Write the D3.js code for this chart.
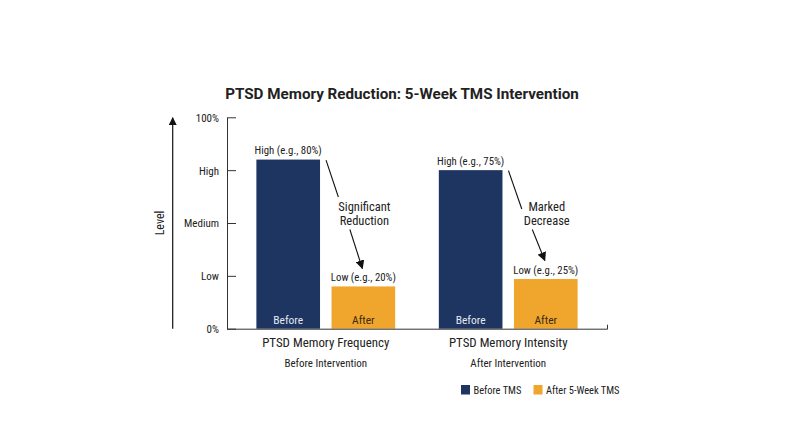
<!DOCTYPE html>
<html>
<head>
<meta charset="utf-8">
<script src="https://cdn.jsdelivr.net/npm/d3@7"></script>
<style>
  html, body { margin: 0; padding: 0; background: #fff; }
  svg text { font-family: "Roboto Condensed", "Liberation Sans Narrow", "Arial Narrow", "DejaVu Sans Condensed", sans-serif; fill: #222; }
  svg text.title { font-family: Roboto, "Noto Sans", sans-serif; font-weight: 700; }
</style>
</head>
<body>
<svg id="chart" width="800" height="447"></svg>
<script>
// ---- data ----
const groups = ["PTSD Memory Frequency", "PTSD Memory Intensity"];
const groupSubLabels = ["Before Intervention", "After Intervention"];
const phases = ["Before", "After"];
const seriesNames = ["Before TMS", "After 5-Week TMS"];
const beforeValues = [80, 75];
const afterValues = [20, 23.5];
const valueLabels = [["High (e.g., 80%)", "Low (e.g., 20%)"], ["High (e.g., 75%)", "Low (e.g., 25%)"]];
const annotations = [["Significant", "Reduction"], ["Marked", "Decrease"]];
const tickValues = [0, 25, 50, 75, 100];
const tickLabels = ["0%", "Low", "Medium", "High", "100%"];
const colors = ["#1e3461", "#f0a52c"];

const svg = d3.select("#chart");
const margin = { left: 227, right: 193, top: 117.3, bottom: 118.3 };
const W = 800, H = 447;
const x0 = d3.scaleBand().domain(groups).range([margin.left, W - margin.right]).paddingInner(0.165).paddingOuter(0.124);
const x1 = d3.scaleBand().domain(phases).range([0, x0.bandwidth()]).paddingInner(0.153).paddingOuter(0.09);
const y = d3.scaleLinear().domain([0, 100]).range([H - margin.bottom, margin.top]);

// title
svg.append("text").attr("class", "title").attr("x", 402).attr("y", 98.5)
  .attr("text-anchor", "middle").style("font-size", "15.2px").text("PTSD Memory Reduction: 5-Week TMS Intervention");

// bars
const data = groups.map((g, i) => ({ g, i, vals: [beforeValues[i], afterValues[i]] }));
const gG = svg.selectAll("g.grp").data(data).join("g").attr("class", "grp")
  .attr("transform", d => `translate(${x0(d.g)},0)`);
gG.selectAll("rect").data(d => d.vals.map((v, j) => ({ v, j, i: d.i }))).join("rect")
  .attr("x", d => x1(phases[d.j])).attr("width", x1.bandwidth())
  .attr("y", d => y(d.v)).attr("height", d => y(0) - y(d.v))
  .attr("fill", d => colors[d.j]);
// inner labels
gG.selectAll("text.inner").data(d => d.vals.map((v, j) => ({ v, j }))).join("text").attr("class", "inner")
  .attr("x", d => x1(phases[d.j]) + x1.bandwidth() / 2).attr("y", y(0) - 4.5)
  .attr("text-anchor", "middle").style("font-size", "11.5px")
  .style("fill", d => d.j === 0 ? "#e4e9f2" : "#3a2a12").text(d => phases[d.j]);
// value labels
gG.selectAll("text.vl").data(d => d.vals.map((v, j) => ({ v, j, i: d.i }))).join("text").attr("class", "vl")
  .attr("x", d => x1(phases[d.j]) + x1.bandwidth() / 2).attr("y", d => y(d.v) - 5.5)
  .attr("text-anchor", "middle").style("font-size", "10.8px").text(d => valueLabels[d.i][d.j]);

// annotations with arrows
const defs = svg.append("defs");
defs.append("marker").attr("id", "ah").attr("viewBox", "0 0 10 10").attr("refX", 9).attr("refY", 5)
  .attr("markerWidth", 9).attr("markerHeight", 9).attr("markerUnits", "userSpaceOnUse").attr("orient", "auto")
  .append("path").attr("d", "M0,0 L10,5 L0,10 Z").attr("fill", "#111");
defs.append("marker").attr("id", "ahUp").attr("viewBox", "0 0 10 10").attr("refX", 9).attr("refY", 5)
  .attr("markerWidth", 9).attr("markerHeight", 8).attr("markerUnits", "userSpaceOnUse").attr("orient", "auto")
  .append("path").attr("d", "M0,0 L10,5 L0,10 Z").attr("fill", "#111");

data.forEach(d => {
  const gx = x0(d.g);
  const bx = gx + x1("Before") + x1.bandwidth();
  const ax = gx + x1("After") + x1.bandwidth() / 2;
  const yTop = y(d.vals[0]);
  const tx = ax;
  svg.append("line").attr("x1", bx + 6).attr("y1", yTop + 0.5)
    .attr("x2", tx - 24 + (d.i === 0 ? -1 : 0)).attr("y2", 197 + (d.i === 1 ? 12 : 0))
    .attr("stroke", "#111").attr("stroke-width", 1.1);
  const t = svg.append("text").attr("x", tx + 1).attr("text-anchor", "middle").style("font-size", "12.5px");
  t.append("tspan").attr("x", tx + 1).attr("y", 211).text(annotations[d.i][0]);
  t.append("tspan").attr("x", tx + 1).attr("y", 224.5).text(annotations[d.i][1]);
  svg.append("line").attr("x1", tx - 13.5).attr("y1", 229.5)
    .attr("x2", tx - 1).attr("y2", d.i === 0 ? 268.5 : 260.5)
    .attr("stroke", "#111").attr("stroke-width", 1.1).attr("marker-end", "url(#ah)");
});

// y axis
const yAxis = d3.axisRight(y).tickValues(tickValues).tickFormat((d, i) => tickLabels[i]).tickSize(9).tickSizeOuter(0);
const ya = svg.append("g").attr("transform", `translate(${margin.left},0)`).call(yAxis);
ya.select(".domain").attr("stroke", "#333");
ya.selectAll(".tick line").attr("stroke", "#333");
ya.selectAll(".tick text").attr("x", -8).attr("text-anchor", "end").attr("dy", "0.35em")
  .style("font-size", "11px").style("fill", "#222");

// x axis baseline
const xa = svg.append("g").attr("transform", `translate(0,${y(0)})`)
  .call(d3.axisBottom(x0).tickSize(0).tickSizeOuter(-4).tickFormat(""));
xa.select(".domain").attr("stroke", "#333");

// group labels
data.forEach(d => {
  const cx = x0(d.g) + x0.bandwidth() / 2;
  svg.append("text").attr("x", cx).attr("y", 347).attr("text-anchor", "middle").style("font-size", "12.9px").text(d.g);
  svg.append("text").attr("x", cx).attr("y", 366.5).attr("text-anchor", "middle").style("font-size", "11px").text(groupSubLabels[d.i]);
});

// y title and arrow
svg.append("text").attr("transform", "translate(164,223) rotate(-90)").attr("text-anchor", "middle")
  .style("font-size", "12px").text("Level");
svg.append("line").attr("x1", 172.7).attr("y1", y(0)).attr("x2", 172.7).attr("y2", y(100) + 0.5)
  .attr("stroke", "#111").attr("stroke-width", 1.2).attr("marker-end", "url(#ahUp)");

// legend
const legX = [461, 533.5];
seriesNames.forEach((s, i) => {
  svg.append("rect").attr("x", legX[i]).attr("y", 385).attr("width", 9).attr("height", 9.5).attr("fill", colors[i]);
  svg.append("text").attr("x", legX[i] + 12.5).attr("y", 393.5).style("font-size", "10.4px").text(s);
});
</script>
</body>
</html>
